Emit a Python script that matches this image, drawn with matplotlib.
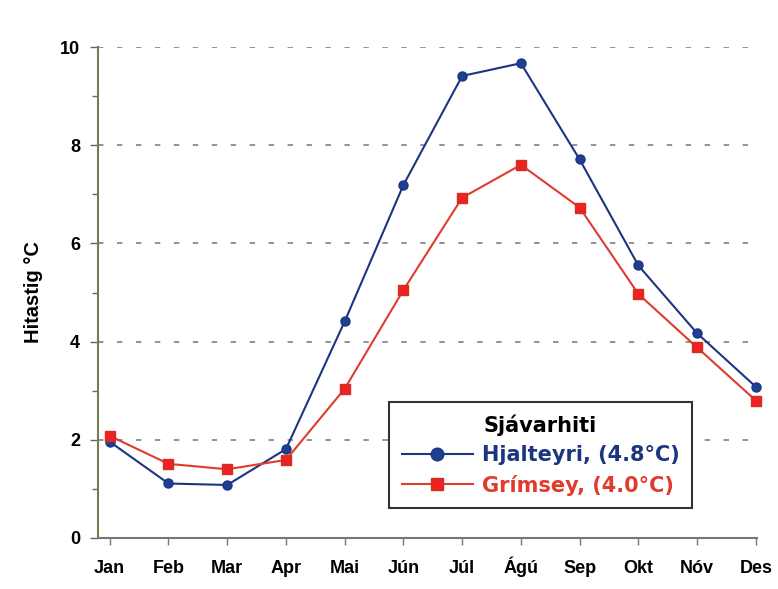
import matplotlib
matplotlib.use("Agg")
import matplotlib.pyplot as plt
from matplotlib.ticker import MultipleLocator

plt.rcParams['font.family'] = ['Liberation Sans', 'DejaVu Sans']

months = ["Jan", "Feb", "Mar", "Apr", "Mai", "Jún", "Júl", "Ágú", "Sep", "Okt", "Nóv", "Des"]
hjalteyri = [1.96, 1.11, 1.08, 1.81, 4.41, 7.19, 9.41, 9.67, 7.71, 5.55, 4.17, 3.08]
grimsey = [2.08, 1.51, 1.40, 1.59, 3.04, 5.05, 6.93, 7.60, 6.73, 4.97, 3.88, 2.80]
label_h = "Hjalteyri, (4.8°C)"
label_g = "Grímsey, (4.0°C)"
legend_title = "Sjávarhiti"
ylabel = "Hitastig °C"

blue = "#1c3580"
red = "#e23a2c"

fig = plt.figure(figsize=(7.78, 5.89), dpi=100)
ax = fig.add_axes([98/778, 51/589, 659/778, 491/589])

x = list(range(len(months)))
ax.plot(x, hjalteyri, color=blue, lw=1.5, marker='o', ms=6.5,
        markerfacecolor="#1f3f95", markeredgecolor=blue, label=label_h,
        zorder=3, clip_on=False)
ax.plot(x, grimsey, color=red, lw=1.5, marker='s', ms=6.5,
        markerfacecolor="#ee2222", markeredgecolor="#d23020", label=label_g,
        zorder=3, clip_on=False)

ax.set_xlim(-0.2, 11.02)
ax.set_ylim(0, 10)
ax.set_xticks(x)
ax.set_xticklabels(months, fontsize=13, fontweight='bold')
for lab in ax.get_xticklabels():
    lab.set_va('baseline')
ax.set_yticks([0, 2, 4, 6, 8, 10])
ax.set_yticklabels(["0", "2", "4", "6", "8", "10"], fontsize=13, fontweight='bold')
ax.yaxis.set_minor_locator(MultipleLocator(1))
ax.tick_params(axis='y', which='major', length=6, width=1, color="#666666", pad=7)
ax.tick_params(axis='y', which='minor', length=4, width=1, color="#666666")
ax.tick_params(axis='x', which='major', length=5, width=1, color="#777777",
               direction='out', pad=20)

for v in [2, 4, 6, 8, 10]:
    ax.axhline(v, color="#8a8a8a", lw=1.3, linestyle=(0, (3, 7.5)), zorder=1)

for s in ['top', 'right']:
    ax.spines[s].set_visible(False)
ax.spines['left'].set_color("#7a7a50")
ax.spines['left'].set_linewidth(1.5)
ax.spines['bottom'].set_color("#777777")
ax.spines['bottom'].set_linewidth(1.5)

ax.set_ylabel(ylabel, fontsize=14.5, fontweight='bold', labelpad=12)

leg_font = {'family': 'DejaVu Sans', 'size': 15, 'weight': 'bold'}
leg = ax.legend(loc='upper left', bbox_to_anchor=(0.4416, 0.277), borderaxespad=0,
                title=legend_title, title_fontproperties=leg_font,
                fancybox=False, framealpha=1,
                edgecolor="#333333", handlelength=3.45, markerscale=1.4,
                prop=leg_font, labelspacing=0.45,
                borderpad=0.6, handletextpad=0.4)
leg.get_frame().set_linewidth(1.5)
leg.set_zorder(5)
for t, c in zip(leg.get_texts(), [blue, red]):
    t.set_color(c)

fig.savefig("out.png", dpi=100)
